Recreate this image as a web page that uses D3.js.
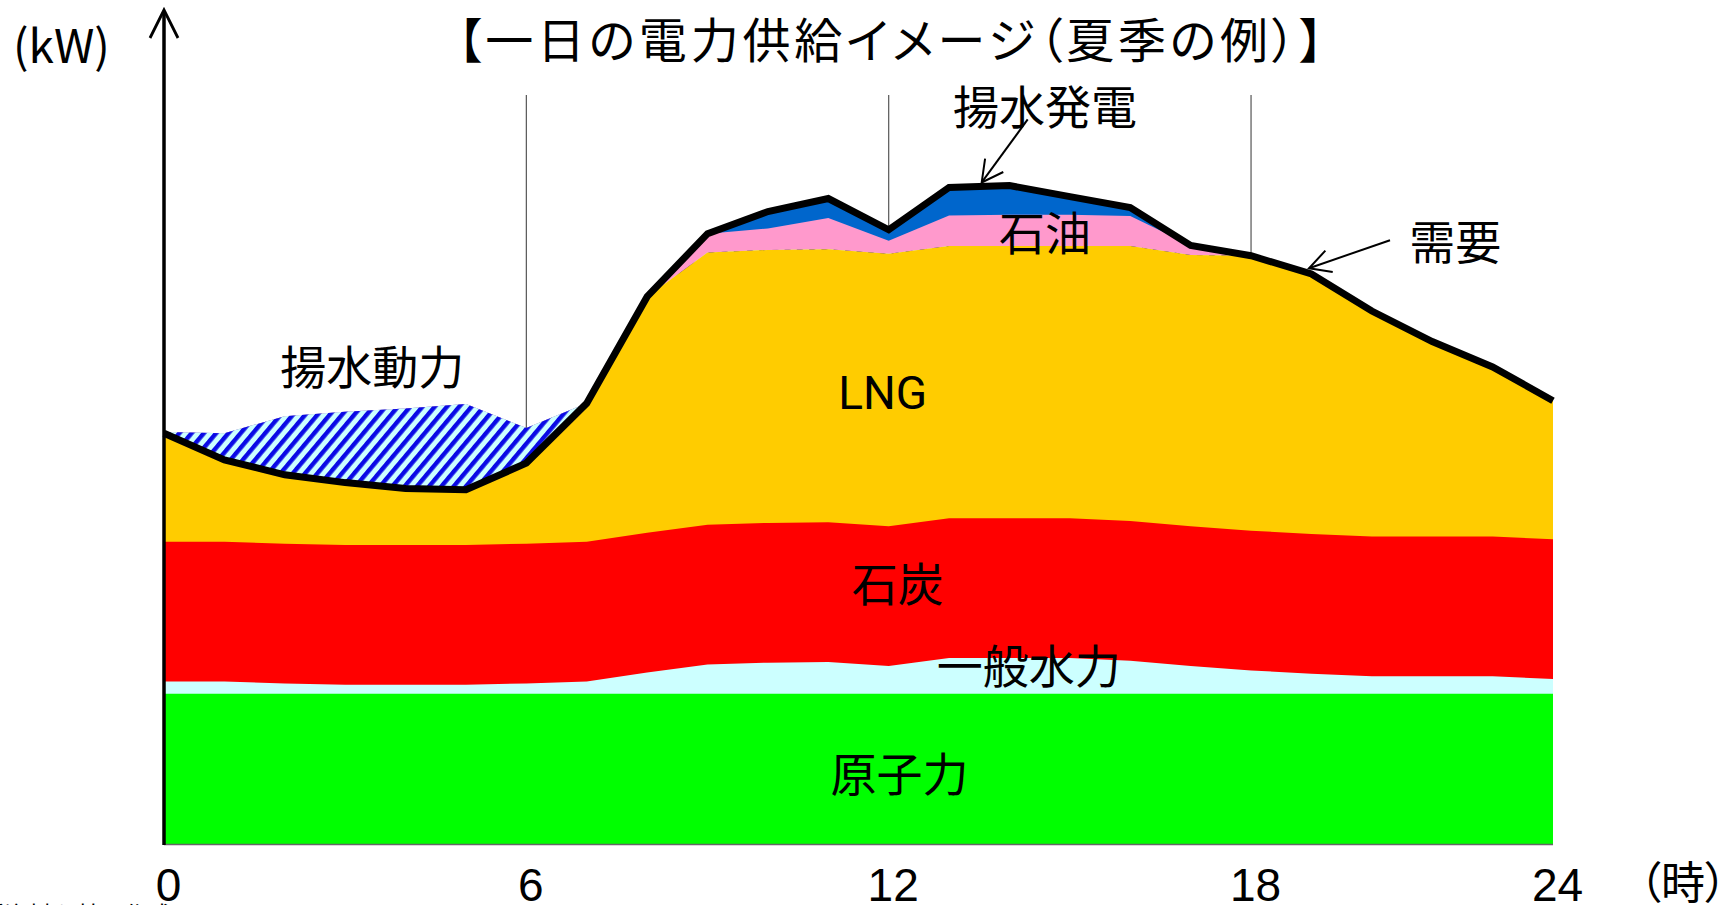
<!DOCTYPE html>
<html lang="ja">
<head>
<meta charset="utf-8">
<title>一日の電力供給イメージ（夏季の例）</title>
<script src="https://cdn.jsdelivr.net/npm/d3@7"></script>
<style>
  html, body { margin: 0; padding: 0; background: #fff; }
  svg { display: block; }
  .jp { font-family: "Noto Sans CJK JP", "Noto Sans CJK SC", sans-serif; }
  .palt { font-feature-settings: "palt" 1; }
</style>
</head>
<body>
<svg id="chart" width="1736" height="905"></svg>
<script>
// ---- data: hourly supply by source (relative kW), 0h .. 23h ----
const hours = [0, 1, 2, 3, 4, 5, 6, 7, 8, 9, 10, 11, 12, 13, 14, 15, 16, 17, 18, 19, 20, 21, 22, 23];

const nuclear = [23.1, 23.1, 23.1, 23.1, 23.1, 23.1, 23.1, 23.1, 23.1, 23.1, 23.1, 23.1,
                 23.1, 23.1, 23.1, 23.1, 23.1, 23.1, 23.1, 23.1, 23.1, 23.1, 23.1, 23.1];
const hydro   = [1.9, 1.9, 1.6, 1.4, 1.4, 1.4, 1.6, 1.9, 3.3, 4.5, 4.8, 4.9,
                 4.3, 5.5, 5.5, 5.5, 5.1, 4.3, 3.6, 3.1, 2.7, 2.7, 2.7, 2.3];
const coal    = [21.5, 21.5, 21.5, 21.5, 21.5, 21.5, 21.5, 21.5, 21.5, 21.5, 21.5, 21.5,
                 21.5, 21.5, 21.5, 21.5, 21.5, 21.5, 21.5, 21.5, 21.5, 21.5, 21.5, 21.5];
const lng     = [16.7, 12.6, 10.6, 9.6, 8.7, 8.5, 12.4, 21.3, 36.3, 41.9, 42.0, 42.0,
                 41.9, 41.9, 41.9, 41.9, 42.3, 41.7, 42.3, 40.0, 34.7, 30.0, 26.1, 21.3];
// night-time surplus used for pumping (揚水動力)
const pumping = [0.2, 4.1, 9.0, 10.9, 12.3, 13.2, 5.4, 0, 0, 0, 0, 0,
                 0, 0, 0, 0, 0, 0, 0, 0, 0, 0, 0, 0];
const oil     = [0, 0, 0, 0, 0, 0, 0, 0, 0, 2.9, 3.3, 4.8,
                 2.0, 4.7, 4.8, 4.8, 4.6, 1.5, 0, 0, 0, 0, 0, 0];
const pumpGen = [0, 0, 0, 0, 0, 0, 0, 0, 0, 0, 2.6, 3.0,
                 1.7, 4.3, 4.5, 2.8, 1.3, 0, 0, 0, 0, 0, 0, 0];
const demand  = [63.2, 59.1, 56.8, 55.6, 54.7, 54.5, 58.6, 67.8, 84.2, 93.9, 97.3, 99.3,
                 94.5, 101.0, 101.3, 99.6, 97.9, 92.1, 90.5, 87.7, 82.0, 77.3, 73.4, 68.2];

const tickHours  = [0, 6, 12, 18, 23];
const tickLabels = ["0", "6", "12", "18", "24"];
const guideHours = [6, 12, 18];

// ---- layout ----
const W = 1736, H = 905;
const x = d3.scaleLinear().domain([0, 23]).range([164, 1553]);
const y = d3.scaleLinear().domain([0, 120]).range([844, 64]);

const keys = ["nuclear", "hydro", "coal", "lng", "pumping", "oil", "pumpGen"];
const rows = hours.map((h, i) => ({
  hour: h, nuclear: nuclear[i], hydro: hydro[i], coal: coal[i], lng: lng[i],
  pumping: pumping[i], oil: oil[i], pumpGen: pumpGen[i]
}));
const fills = {
  nuclear: "#00ff00", hydro: "#ccffff", coal: "#ff0000", lng: "#ffcc00",
  pumping: "url(#pumpHatch)", oil: "#ff99cc", pumpGen: "#0066cc"
};

const svg = d3.select("#chart").attr("viewBox", `0 0 ${W} ${H}`);

// diagonal hatch for pumping power
const defs = svg.append("defs");
const pat = defs.append("pattern")
  .attr("id", "pumpHatch")
  .attr("patternUnits", "userSpaceOnUse")
  .attr("width", 9.4).attr("height", 9.4)
  .attr("patternTransform", "rotate(40)");
pat.append("rect").attr("width", 9.4).attr("height", 9.4).attr("fill", "#ccffff");
pat.append("rect").attr("width", 4.4).attr("height", 9.4).attr("fill", "#0a0ae6");

// thin guides at 6, 12 and 18 o'clock (behind the areas)
svg.append("g")
  .selectAll("line").data(guideHours).join("line")
  .attr("x1", d => x(d)).attr("x2", d => x(d))
  .attr("y1", 95).attr("y2", y(0))
  .attr("stroke", "#555").attr("stroke-width", 1.2);

// stacked supply areas, each painted from the baseline, top layer first
const series = d3.stack().keys(keys)(rows);
const areaFromBase = d3.area()
  .x(d => x(d.data.hour))
  .y0(y(0))
  .y1(d => y(d[1]));
svg.append("g")
  .selectAll("path").data(series.slice().reverse()).join("path")
  .attr("d", areaFromBase)
  .attr("fill", s => fills[s.key]);

// baseline
svg.append("line")
  .attr("x1", x(0)).attr("x2", x(23))
  .attr("y1", y(0) + 0.5).attr("y2", y(0) + 0.5)
  .attr("stroke", "#666").attr("stroke-width", 1.5);

// demand curve
const demandLine = d3.line()
  .x((d, i) => x(hours[i]))
  .y(d => y(d));
svg.append("path")
  .datum(demand)
  .attr("d", demandLine)
  .attr("fill", "none")
  .attr("stroke", "#000")
  .attr("stroke-width", 7)
  .attr("stroke-linejoin", "miter");

// vertical axis with open arrowhead
const axisX = x(0);
svg.append("line")
  .attr("x1", axisX).attr("x2", axisX)
  .attr("y1", y(0) + 1).attr("y2", 11)
  .attr("stroke", "#000").attr("stroke-width", 3.5);
svg.append("path")
  .attr("d", `M${axisX - 14},38 L${axisX},10 L${axisX + 14},38`)
  .attr("fill", "none").attr("stroke", "#000").attr("stroke-width", 2.8);

// hour labels
const xAxis = d3.axisBottom(x)
  .tickValues(tickHours)
  .tickFormat((d, i) => tickLabels[i])
  .tickSize(0);
const gx = svg.append("g").attr("transform", "translate(4,0)").call(xAxis);
gx.select(".domain").remove();
gx.attr("font-size", 46).attr("font-family", "'Liberation Sans', Arial, sans-serif");
gx.selectAll("text").attr("y", 901).attr("dy", null).attr("fill", "#000");

svg.append("text")
  .attr("class", "jp palt")
  .attr("x", 1683).attr("y", 899)
  .attr("text-anchor", "middle")
  .attr("font-size", 44)
  .text("（時）");

svg.append("text")
  .attr("class", "jp")
  .attr("x", 13).attr("y", 63)
  .attr("font-size", 46)
  .text("(kW)");

// title
svg.append("text")
  .attr("class", "jp palt")
  .attr("x", 890.5).attr("y", 58)
  .attr("text-anchor", "middle")
  .attr("font-size", 48)
  .attr("textLength", 866)
  .attr("lengthAdjust", "spacing")
  .text("【一日の電力供給イメージ（夏季の例）】");

// series labels (placed in chart coordinates)
const labels = [
  { text: "揚水発電", hour: 14.59, value: 113.5 },
  { text: "石油",     hour: 14.59, value: 94.0 },
  { text: "需要",     hour: 21.38, value: 92.7 },
  { text: "揚水動力", hour: 3.45,  value: 73.5 },
  { text: "石炭",     hour: 12.15, value: 40.0 },
  { text: "一般水力", hour: 14.32, value: 27.5 },
  { text: "原子力",   hour: 12.18, value: 10.8 }
];
svg.append("g")
  .selectAll("text").data(labels).join("text")
  .attr("class", "jp")
  .attr("x", d => x(d.hour)).attr("y", d => y(d.value))
  .attr("dy", "0.38em")
  .attr("text-anchor", "middle")
  .attr("font-size", 46)
  .text(d => d.text);

svg.append("text")
  .attr("x", x(11.9)).attr("y", y(69.4))
  .attr("dy", "0.355em")
  .attr("text-anchor", "middle")
  .attr("font-family", "Roboto, 'Liberation Sans', sans-serif")
  .attr("font-size", 46)
  .text("LNG");

// pointer arrows from labels to the curve
const pointers = [
  { hour: 13.54, lift: 4, dx: 46, dy: -63 },
  { hour: 18.96, lift: 5, dx: 81, dy: -28 }
];
const demandAt = h => {
  const i = Math.min(Math.floor(h), 22), t = h - i;
  return demand[i] * (1 - t) + demand[i + 1] * t;
};
const gp = svg.append("g").attr("stroke", "#000").attr("stroke-width", 2).attr("fill", "none");
pointers.forEach(p => {
  const tx = x(p.hour), ty = y(demandAt(p.hour)) - p.lift;
  const ang = Math.atan2(p.dy, p.dx), half = 28 * Math.PI / 180, len = 24;
  gp.append("line").attr("x1", tx + p.dx).attr("y1", ty + p.dy).attr("x2", tx).attr("y2", ty);
  gp.append("path").attr("d",
    `M${tx + len * Math.cos(ang - half)},${ty + len * Math.sin(ang - half)}` +
    `L${tx},${ty}` +
    `L${tx + len * Math.cos(ang + half)},${ty + len * Math.sin(ang + half)}`);
});

// source note along the bottom edge
svg.append("text")
  .attr("class", "jp")
  .attr("x", 172).attr("y", 924)
  .attr("text-anchor", "end")
  .attr("font-size", 24)
  .text("各種資料を基に作成");
</script>
</body>
</html>
